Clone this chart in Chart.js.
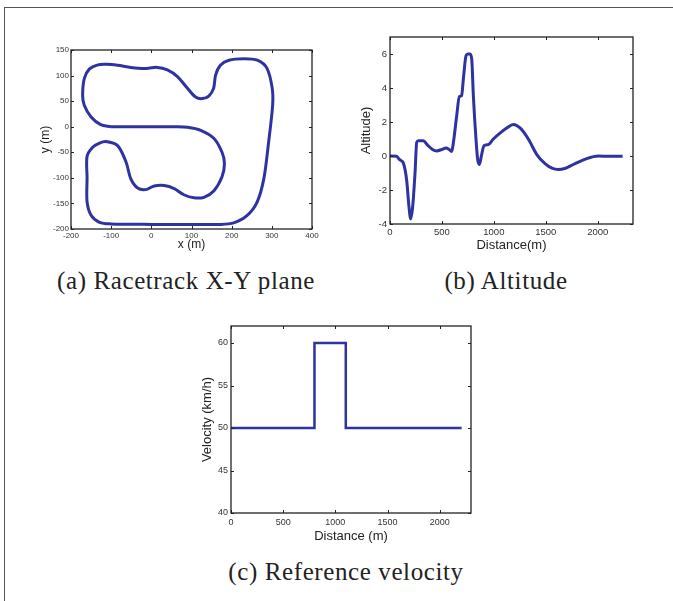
<!DOCTYPE html>
<html>
<head>
<meta charset="utf-8">
<script src="https://cdn.jsdelivr.net/npm/chart.js@4.4.0/dist/chart.umd.min.js"></script>
<style>
  body { margin: 0; background: #fff; width: 673px; height: 601px; overflow: hidden; position: relative; }
  .frame { position: absolute; left: 4px; top: 7px; width: 700px; height: 700px; border-left: 1px solid #555; border-top: 1px solid #555; }
  .plot { position: absolute; }
  .cap { position: absolute; font-family: "Liberation Serif", "DejaVu Serif", serif; font-size: 25px; letter-spacing: 0.6px; color: #222; white-space: nowrap; transform: translateX(-50%); line-height: 1; }
</style>
</head>
<body>
<div class="frame"></div>
<div class="plot" style="left:20px;top:40px;width:302px;height:219px"><canvas id="track"></canvas></div>
<div class="plot" style="left:350px;top:27px;width:293px;height:232px"><canvas id="alt"></canvas></div>
<div class="plot" style="left:191px;top:316px;width:290px;height:232px"><canvas id="vel"></canvas></div>
<div class="cap" style="left:186px;top:268px">(a) Racetrack X-Y plane</div>
<div class="cap" style="left:506px;top:268px">(b) Altitude</div>
<div class="cap" style="left:346px;top:559px">(c) Reference velocity</div>
<script>
// racetrack centre line (m)
const trackX = [-101, 0, 60, 90, 123, 156, 176, 182, 176, 156, 131, 106, 81, 57, 32, 7, -14, -34, -51, -63, -84, -113, -129, -146, -160, -160, -160, -150, -129, -101, 0, 100, 172, 205, 238, 263, 280, 292, 302, 301, 288, 264, 231, 193, 172, 160, 155, 143, 127, 110, 90, 65, 40, 15, -18, -51, -84, -110, -133, -154, -167, -171, -167, -150, -126, -101];
const trackY = [0, 0, 0, -1, -7, -23, -50, -72, -98, -125, -138, -139, -133, -121, -115, -116, -123, -120, -102, -69, -37, -29, -32, -40, -58, -100, -147, -173, -187, -190, -191, -191, -191, -188, -174, -148, -102, -30, 42, 75, 114, 130, 133, 130, 120, 101, 75, 60, 55, 58, 75, 98, 111, 116, 114, 116, 120, 122, 121, 113, 94, 61, 42, 19, 4, 0];

// altitude profile
const altDist = [0, 64, 90, 112, 128, 160, 183, 199, 218, 241, 257, 273, 321, 360, 417, 449, 498, 539, 571, 594, 610, 642, 668, 690, 706, 732, 750, 770, 787, 803, 828, 844, 860, 883, 905, 947, 995, 1059, 1124, 1188, 1252, 1332, 1412, 1493, 1560, 1620, 1690, 1766, 1894, 2006, 2119, 2240];
const altValue = [0, -0.02, -0.2, -0.3, -0.4, -1.4, -3, -3.7, -3, -1, 0.8, 0.9, 0.9, 0.65, 0.35, 0.3, 0.38, 0.47, 0.38, 0.27, 0.77, 2.35, 3.5, 3.55, 4.5, 5.9, 6, 6, 5.7, 3.5, 1, -0.2, -0.5, 0.1, 0.6, 0.67, 1.0, 1.35, 1.65, 1.85, 1.65, 1.0, 0.1, -0.45, -0.72, -0.8, -0.72, -0.5, -0.15, 0, -0.02, -0.02];

// reference velocity
const velDist = [0, 800, 800, 1100, 1100, 2210];
const velValue = [50, 50, 60, 60, 50, 50];

// tick labels
const trackXTicks = [-200, -100, 0, 100, 200, 300, 400];
const trackYTicks = [-200, -150, -100, -50, 0, 50, 100, 150];
const distTicks = [0, 500, 1000, 1500, 2000];
const altTicks = [-4, -2, 0, 2, 4, 6];
const velTicks = [40, 45, 50, 55, 60];

const lineBlue = '#2d33a0';
const sans = "'Liberation Sans', Arial, sans-serif";

const toPts = (xs, ys) => xs.map((x, i) => ({ x, y: ys[i] }));

// MATLAB style box with inward ticks on all four sides
const boxTicks = {
  id: 'boxTicks',
  afterDatasetsDraw(chart) {
    const { ctx, chartArea: a, scales: { x, y } } = chart;
    const len = 3;
    ctx.save();
    ctx.strokeStyle = '#222';
    ctx.lineWidth = 1;
    ctx.beginPath();
    x.ticks.forEach(t => {
      const px = Math.round(x.getPixelForValue(t.value)) + 0.5;
      ctx.moveTo(px, a.bottom); ctx.lineTo(px, a.bottom - len);
      ctx.moveTo(px, a.top); ctx.lineTo(px, a.top + len);
    });
    y.ticks.forEach(t => {
      const py = Math.round(y.getPixelForValue(t.value)) + 0.5;
      ctx.moveTo(a.left, py); ctx.lineTo(a.left + len, py);
      ctx.moveTo(a.right, py); ctx.lineTo(a.right - len, py);
    });
    ctx.stroke();
    ctx.lineWidth = 1.3;
    ctx.strokeRect(a.left, a.top, a.right - a.left, a.bottom - a.top);
    ctx.restore();
  }
};

function makeChart(id, pts, cfg) {
  return new Chart(document.getElementById(id), {
    type: 'scatter',
    data: {
      datasets: [{
        data: pts,
        showLine: true,
        borderColor: lineBlue,
        borderWidth: cfg.lineWidth,
        pointRadius: 0,
        tension: cfg.tension,
        cubicInterpolationMode: cfg.mode || 'default'
      }]
    },
    options: {
      responsive: true,
      maintainAspectRatio: false,
      animation: false,
      layout: { padding: { top: 10, right: 10, left: 0, bottom: 0 } },
      plugins: { legend: { display: false }, tooltip: { enabled: false } },
      scales: {
        x: {
          type: 'linear',
          min: cfg.xMin, max: cfg.xMax,
          afterBuildTicks: s => { s.ticks = cfg.xTicks.map(v => ({ value: v })); },
          afterFit: s => { s.height = cfg.xAxisH; },
          grid: { display: false, drawTicks: false, tickLength: 0 },
          border: { display: false },
          ticks: { color: '#333', padding: cfg.xTickPad, font: { family: sans, size: cfg.tickSize }, callback: v => String(v) },
          title: { display: true, text: cfg.xTitle, color: '#222', padding: { top: 0, bottom: cfg.xTitlePad }, font: { family: sans, size: cfg.titleSize } }
        },
        y: {
          type: 'linear',
          min: cfg.yMin, max: cfg.yMax,
          afterBuildTicks: s => { s.ticks = cfg.yTicks.map(v => ({ value: v })); },
          afterFit: s => { s.width = cfg.yAxisW; },
          grid: { display: false, drawTicks: false, tickLength: 0 },
          border: { display: false },
          ticks: { color: '#333', padding: cfg.yTickPad, font: { family: sans, size: cfg.tickSize }, callback: v => String(v) },
          title: { display: true, text: cfg.yTitle, color: '#222', padding: { top: cfg.yTitlePad, bottom: 0 }, font: { family: sans, size: cfg.titleSize } }
        }
      }
    },
    plugins: [boxTicks]
  });
}

makeChart('track', toPts(trackX, trackY), {
  lineWidth: 3, tension: 0.3,
  xMin: -200, xMax: 400, yMin: -200, yMax: 150,
  xTicks: trackXTicks, yTicks: trackYTicks,
  xAxisH: 30, yAxisW: 51, tickSize: 8, titleSize: 12,
  xTickPad: 2, yTickPad: 2, xTitlePad: 7, yTitlePad: 18,
  xTitle: 'x (m)', yTitle: 'y (m)'
});

makeChart('alt', toPts(altDist, altValue), {
  lineWidth: 3, tension: 0.4, mode: 'monotone',
  xMin: 0, xMax: 2340, yMin: -4, yMax: 7,
  xTicks: distTicks, yTicks: altTicks,
  xAxisH: 35, yAxisW: 40, tickSize: 9.5, titleSize: 13,
  xTickPad: 3, yTickPad: 3, xTitlePad: 6, yTitlePad: 9,
  xTitle: 'Distance(m)', yTitle: 'Altitude)'
});

makeChart('vel', toPts(velDist, velValue), {
  lineWidth: 2.5, tension: 0,
  xMin: 0, xMax: 2300, yMin: 40, yMax: 62,
  xTicks: distTicks, yTicks: velTicks,
  xAxisH: 35, yAxisW: 40, tickSize: 9, titleSize: 13,
  xTickPad: 4, yTickPad: 3, xTitlePad: 4, yTitlePad: 9,
  xTitle: 'Distance (m)', yTitle: 'Velocity (km/h)'
});
</script>
</body>
</html>
